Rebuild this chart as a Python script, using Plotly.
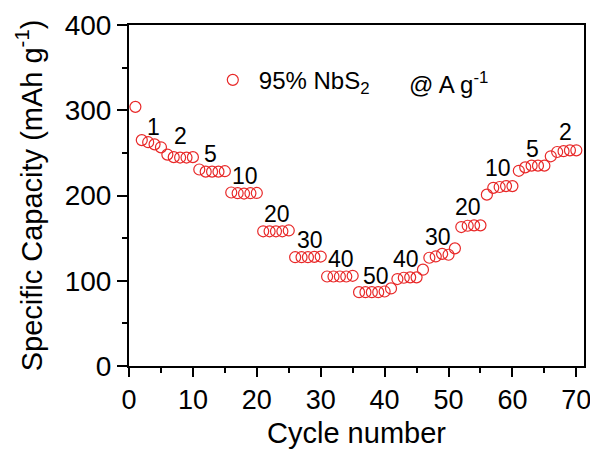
import plotly.graph_objects as go

cycles = list(range(1, 71))
capacity = [304,
            265, 262.5, 260, 256.5,
            248, 245, 244.5, 244.5, 245,
            230.5, 228, 228, 228, 228.5,
            203.5, 202.7, 202.3, 202.7, 203,
            158, 158, 158, 158, 159,
            127.6, 127.6, 127.6, 128, 128.4,
            105, 105, 105, 105, 105.8,
            86.6, 86.6, 86.6, 86.6, 87.4,
            91, 102, 103.5, 104, 104,
            113, 127, 128.5, 131.5, 130.5,
            138, 163, 164.5, 165, 165,
            201, 209, 210, 211, 211,
            229, 233, 235, 235, 235,
            246, 251, 252, 253, 253]

rate_labels = ["1", "2", "5", "10", "20", "30", "40", "50", "40", "30", "20", "10", "5", "2"]
rate_x = [3.9, 8.0, 12.7, 18.1, 23.1, 28.3, 33.2, 38.6, 43.3, 48.4, 53.1, 57.8, 63.1, 68.3]
rate_y = [280, 270, 249, 223, 178, 148, 125, 105, 125, 151, 186, 232, 255, 274]

FONT = "Liberation Sans, Arial, sans-serif"
RED = "rgb(232,40,40)"

fig = go.Figure()
fig.add_trace(go.Scatter(
    x=cycles, y=capacity, mode="markers",
    name="95% NbS<sub>2</sub>",
    marker=dict(symbol="circle-open", size=11, color=RED, line=dict(width=1.2, color=RED)),
))

for t, x, y in zip(rate_labels, rate_x, rate_y):
    fig.add_annotation(x=x, y=y, text=t, showarrow=False,
                       font=dict(family=FONT, size=23, color="black"))

fig.add_annotation(x=43.5, y=332, text="@ A g<sup>-1</sup>", showarrow=False,
                   xanchor="left", font=dict(family=FONT, size=24, color="black"))

# the page body adds an 8px offset, so the figure is sized to fit the window
fig.update_layout(
    width=590, height=442,
    margin=dict(l=121, r=14, t=17, b=84),
    paper_bgcolor="white", plot_bgcolor="white",
    font=dict(family=FONT, color="black"),
    showlegend=True,
    legend=dict(x=0.171, y=0.838, xanchor="left", yanchor="middle",
                itemwidth=42,
                font=dict(family=FONT, size=24), bgcolor="rgba(0,0,0,0)"),
)

fig.update_xaxes(
    range=[0, 71.2], showgrid=False, zeroline=False, automargin=False,
    showline=True, linecolor="black", linewidth=2, mirror=True,
    ticks="outside", ticklen=9, tickwidth=2, tickcolor="black",
    tick0=0, dtick=10,
    minor=dict(ticks="outside", ticklen=5, tickwidth=2, tickcolor="black", dtick=5),
    tickfont=dict(family=FONT, size=27),
    title=dict(text="Cycle number", font=dict(family=FONT, size=29), standoff=8),
)
fig.update_yaxes(
    range=[0, 400], showgrid=False, zeroline=False, automargin=False,
    showline=True, linecolor="black", linewidth=2, mirror=True,
    ticks="outside", ticklen=10, tickwidth=2, tickcolor="black",
    tick0=0, dtick=100,
    minor=dict(ticks="outside", ticklen=5, tickwidth=2, tickcolor="black", dtick=50),
    tickfont=dict(family=FONT, size=28),
    title=dict(text="Specific Capacity (mAh g<sup>-1</sup>)", font=dict(family=FONT, size=29), standoff=14),
)

fig.write_html("out.html")
